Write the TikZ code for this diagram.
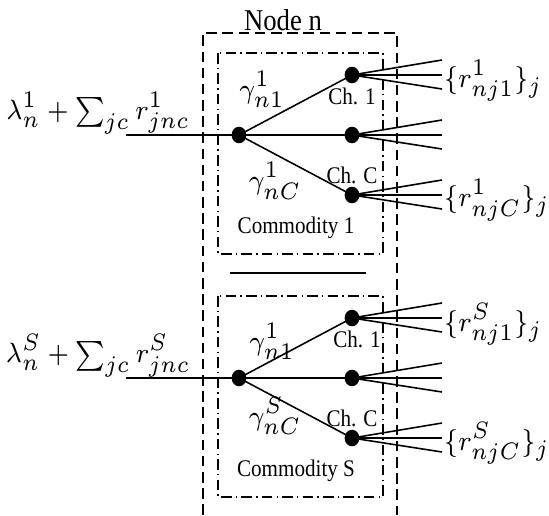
\documentclass[tikz,border=0pt]{standalone}
\usepackage{amsmath, amssymb}
\usepackage{fontspec}
\setmainfont{Liberation Serif}
\usepackage{tikz}
\usetikzlibrary{calc, shapes.geometric}
\DeclareMathSizes{7.5}{7.5}{5.8}{4.5}
\newcommand{\tallbox}[1]{\scalebox{1}[1.13]{#1}}
\tikzset{
  dot/.style={ellipse, fill=black, inner sep=0pt, minimum width=4.2pt, minimum height=4.7pt},
  chlbl/.style={font=\fontsize{6}{7}\selectfont, inner sep=0pt},
  mlbl/.style={font=\fontsize{7.5}{9}\selectfont, inner sep=0pt},
  nodebox/.style={dash pattern=on 3pt off 1.6pt},
  combox/.style={dash pattern=on 3pt off 1.2pt on 0.4pt off 1.2pt}
}

\begin{document}
\begin{tikzpicture}[x=0.01cm, y=-0.01cm, line width=0.45pt]
  \useasboundingbox (0,0) rectangle (549,515);
  % outer node box, open at the bottom
  \node[font=\fontsize{7.6}{9}\selectfont, inner sep=0pt] (nodelbl) at (283,20) {\tallbox{Node n}};
  \draw[nodebox] (203,515) -- (203,33) -- (397,33) -- (397,515);
  \coordinate (sepl) at (230,273);
  \coordinate (sepr) at (366,273);
  \draw (sepl) -- (sepr);
  % one block per commodity
  \foreach \k/\dy/\g/\gax/\gay/\gcy/\chx in {1/0/1/262/89/181/352, S/243/S/272/98/173/357}{
    \begin{scope}[shift={(0,\dy)}]
      \draw[combox] (218,53) rectangle (383,254);
      \node[dot] (m\k) at (239,135) {};
      \node[dot] (a\k) at (352,75) {};
      \node[dot] (b\k) at (352,135) {};
      \node[dot] (c\k) at (352,195) {};
      \coordinate (in\k) at (126,135);
      \draw (in\k) -- (m\k.center) -- (b\k.center);
      \draw (m\k.center) -- (a\k.center);
      \draw (m\k.center) -- (c\k.center);
      \foreach \n in {a,b,c}{
        \foreach \o in {-15,0,14}{
          \coordinate (\n\k\o) at ($(\n\k)+(90,\o)$);
          \draw (\n\k.center) -- (\n\k\o);
        }
      }
      \node[mlbl] (lam\k) at (98,113) {\tallbox{$\lambda_n^{\k} + \sum_{jc} r^{\k}_{jnc}$}};
      \node[mlbl] (ga\k) at (\gax,\gay) {\tallbox{$\gamma^1_{n1}$}};
      \node[mlbl] (gc\k) at (275,\gcy) {\tallbox{$\gamma^{\g}_{nC}$}};
      \node[chlbl] (cha\k) at (\chx,96) {\tallbox{Ch. 1}};
      \node[chlbl] (chc\k) at (352,175) {\tallbox{Ch. C}};
      \node[chlbl] (com\k) at (296,228) {\tallbox{Commodity \k}};
      \node[mlbl, anchor=west] (ra\k) at (443,81) {\tallbox{$\{r^{\k}_{nj1}\}_j$}};
      \node[mlbl, anchor=west] (rc\k) at (443,200) {\tallbox{$\{r^{\k}_{njC}\}_j$}};
    \end{scope}
  }
\end{tikzpicture}
\end{document}
